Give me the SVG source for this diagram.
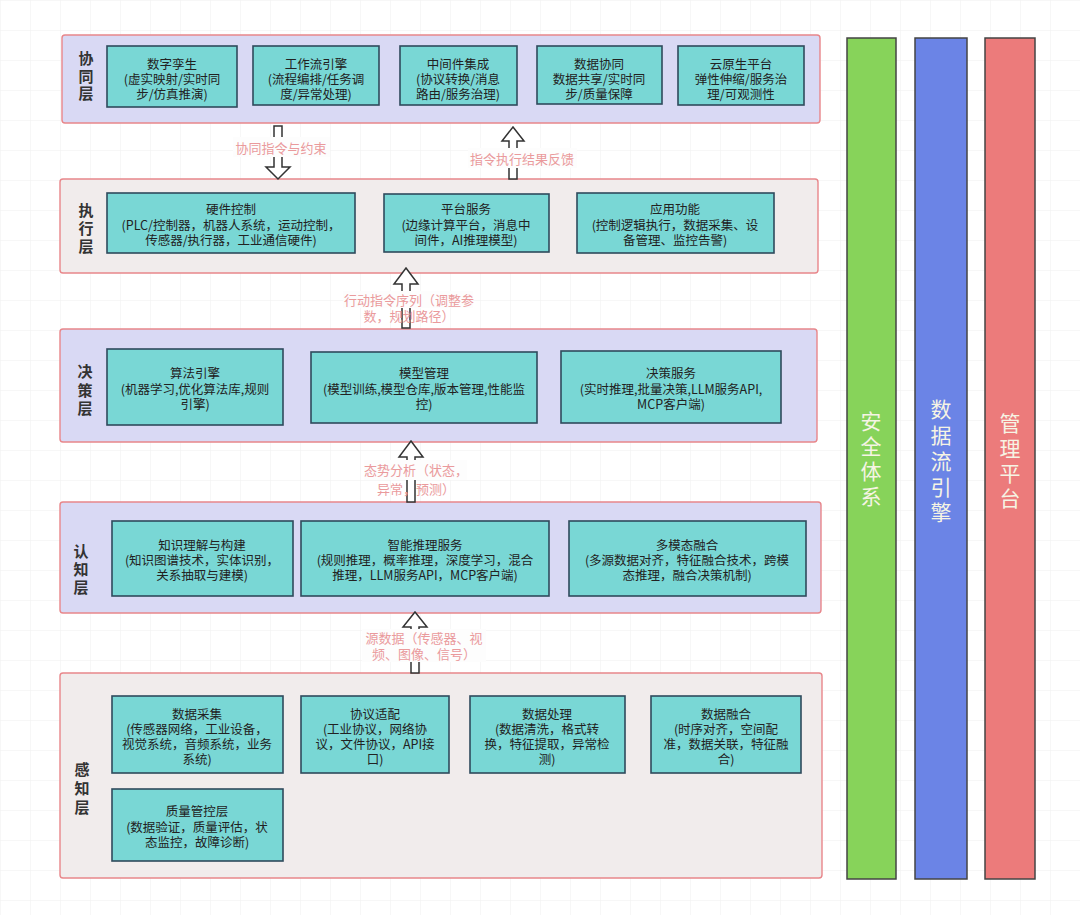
<svg xmlns="http://www.w3.org/2000/svg" width="1080" height="915" viewBox="0 0 1080 915">
<defs>
<pattern id="grid" width="30" height="30" patternUnits="userSpaceOnUse">
<path d="M30 0 L0 0 0 30" fill="none" stroke="#efefef" stroke-width="1"/>
</pattern>
<style>
.layerA{fill:#d9d9f4;stroke:#e8868a;stroke-width:1.4}
.layerB{fill:#f1ecec;stroke:#e8868a;stroke-width:1.4}
.node rect{fill:#79d7d5;stroke:#2f4a5c;stroke-width:1.6}
.nt{font-family:"Noto Sans CJK SC","Liberation Sans",sans-serif;font-size:12.5px;fill:#222;text-anchor:middle;dominant-baseline:central}
.ll{font-family:"Noto Sans CJK SC","Liberation Sans",sans-serif;font-size:15px;font-weight:bold;fill:#333;text-anchor:middle;dominant-baseline:central}
.arrow{fill:#ffffff;stroke:#333;stroke-width:1.5;stroke-linejoin:miter}
.al{font-family:"Noto Sans CJK SC","Liberation Sans",sans-serif;font-size:13px;fill:#ea9a9c;text-anchor:middle;dominant-baseline:central}
.lbg{fill:#fdfdfd}
.bar{stroke:#444;stroke-width:1.5}
.bt{font-family:"Noto Sans CJK SC","Liberation Sans",sans-serif;font-size:21px;fill:#f6f4e4;text-anchor:middle;dominant-baseline:central}
</style>
</defs>
<rect width="1080" height="915" fill="#ffffff"/>
<rect width="1080" height="915" fill="url(#grid)"/>

<!-- 协同层 -->
<g id="layer-xietong">
<rect class="layerA" x="62" y="35" width="758" height="88" rx="3"/>
<text class="ll" x="86" y="57">协<tspan x="86" dy="17.5">同</tspan><tspan x="86" dy="17.5">层</tspan></text>
</g>
<g id="n-shuzi" class="node"><rect x="107" y="46" width="130" height="61"/>
<text class="nt" x="172" y="63">数字孪生<tspan x="172" dy="15">(虚实映射/实时同</tspan><tspan x="172" dy="15">步/仿真推演)</tspan></text></g>
<g id="n-gongzuoliu" class="node"><rect x="253" y="46" width="126" height="59"/>
<text class="nt" x="316" y="63">工作流引擎<tspan x="316" dy="15">(流程编排/任务调</tspan><tspan x="316" dy="15">度/异常处理)</tspan></text></g>
<g id="n-zhongjianjian" class="node"><rect x="400" y="46" width="117" height="59"/>
<text class="nt" x="458" y="63">中间件集成<tspan x="458" dy="15">(协议转换/消息</tspan><tspan x="458" dy="15">路由/服务治理)</tspan></text></g>
<g id="n-shujuxietong" class="node"><rect x="537" y="46" width="125" height="58"/>
<text class="nt" x="599" y="63">数据协同<tspan x="599" dy="15">数据共享/实时同</tspan><tspan x="599" dy="15">步/质量保障</tspan></text></g>
<g id="n-yunyuansheng" class="node"><rect x="678" y="46" width="126" height="59"/>
<text class="nt" x="741" y="63">云原生平台<tspan x="741" dy="15">弹性伸缩/服务治</tspan><tspan x="741" dy="15">理/可观测性</tspan></text></g>

<!-- 执行层 -->
<g id="layer-zhixing">
<rect class="layerB" x="60" y="179" width="758" height="94" rx="3"/>
<text class="ll" x="86" y="209">执<tspan x="86" dy="18">行</tspan><tspan x="86" dy="18">层</tspan></text>
</g>
<g id="n-yingjian" class="node"><rect x="107" y="193" width="248" height="60"/>
<text class="nt" x="231" y="208">硬件控制<tspan x="231" dy="15.5">(PLC/控制器，机器人系统，运动控制，</tspan><tspan x="231" dy="15.5">传感器/执行器，工业通信硬件)</tspan></text></g>
<g id="n-pingtai" class="node"><rect x="384" y="194" width="165" height="58"/>
<text class="nt" x="466" y="208">平台服务<tspan x="466" dy="15.5">(边缘计算平台，消息中</tspan><tspan x="466" dy="15.5">间件，AI推理模型)</tspan></text></g>
<g id="n-yingyong" class="node"><rect x="577" y="193" width="197" height="60"/>
<text class="nt" x="675" y="208">应用功能<tspan x="675" dy="15.5">(控制逻辑执行，数据采集、设</tspan><tspan x="675" dy="15.5">备管理、监控告警)</tspan></text></g>

<!-- 决策层 -->
<g id="layer-juece">
<rect class="layerA" x="60" y="329" width="757" height="113" rx="3"/>
<text class="ll" x="85" y="370">决<tspan x="85" dy="18.5">策</tspan><tspan x="85" dy="18.5">层</tspan></text>
</g>
<g id="n-suanfa" class="node"><rect x="107" y="349" width="176" height="76"/>
<text class="nt" x="195" y="372">算法引擎<tspan x="195" dy="15.5">(机器学习,优化算法库,规则</tspan><tspan x="195" dy="15.5">引擎)</tspan></text></g>
<g id="n-moxing" class="node"><rect x="311" y="352" width="226" height="71"/>
<text class="nt" x="424" y="372">模型管理<tspan x="424" dy="15.5">(模型训练,模型仓库,版本管理,性能监</tspan><tspan x="424" dy="15.5">控)</tspan></text></g>
<g id="n-juecefuwu" class="node"><rect x="561" y="351" width="220" height="72"/>
<text class="nt" x="671" y="372">决策服务<tspan x="671" dy="15.5">(实时推理,批量决策,LLM服务API,</tspan><tspan x="671" dy="15.5">MCP客户端)</tspan></text></g>

<!-- 认知层 -->
<g id="layer-renzhi">
<rect class="layerA" x="60" y="502" width="761" height="111" rx="3"/>
<text class="ll" x="81" y="550">认<tspan x="81" dy="18">知</tspan><tspan x="81" dy="18">层</tspan></text>
</g>
<g id="n-zhishi" class="node"><rect x="112" y="521" width="181" height="75"/>
<text class="nt" x="202" y="544">知识理解与构建<tspan x="202" dy="15">(知识图谱技术，实体识别，</tspan><tspan x="202" dy="15">关系抽取与建模)</tspan></text></g>
<g id="n-zhineng" class="node"><rect x="301" y="521" width="248" height="75"/>
<text class="nt" x="425" y="544">智能推理服务<tspan x="425" dy="15">(规则推理，概率推理，深度学习，混合</tspan><tspan x="425" dy="15">推理，LLM服务API，MCP客户端)</tspan></text></g>
<g id="n-duomotai" class="node"><rect x="569" y="521" width="237" height="75"/>
<text class="nt" x="687" y="544">多模态融合<tspan x="687" dy="15">(多源数据对齐，特征融合技术，跨模</tspan><tspan x="687" dy="15">态推理，融合决策机制)</tspan></text></g>

<!-- 感知层 -->
<g id="layer-ganzhi">
<rect class="layerB" x="60" y="673" width="762" height="205" rx="3"/>
<text class="ll" x="82" y="768">感<tspan x="82" dy="19">知</tspan><tspan x="82" dy="19">层</tspan></text>
</g>
<g id="n-caiji" class="node"><rect x="112" y="696" width="171" height="77"/>
<text class="nt" x="197" y="713">数据采集<tspan x="197" dy="15">(传感器网络，工业设备，</tspan><tspan x="197" dy="15">视觉系统，音频系统，业务</tspan><tspan x="197" dy="15">系统)</tspan></text></g>
<g id="n-xieyi" class="node"><rect x="301" y="696" width="148" height="77"/>
<text class="nt" x="375" y="713">协议适配<tspan x="375" dy="15">(工业协议，网络协</tspan><tspan x="375" dy="15">议，文件协议，API接</tspan><tspan x="375" dy="15">口)</tspan></text></g>
<g id="n-chuli" class="node"><rect x="470" y="696" width="155" height="77"/>
<text class="nt" x="547" y="713">数据处理<tspan x="547" dy="15">(数据清洗，格式转</tspan><tspan x="547" dy="15">换，特征提取，异常检</tspan><tspan x="547" dy="15">测)</tspan></text></g>
<g id="n-ronghe" class="node"><rect x="651" y="696" width="150" height="77"/>
<text class="nt" x="726" y="713">数据融合<tspan x="726" dy="15">(时序对齐，空间配</tspan><tspan x="726" dy="15">准，数据关联，特征融</tspan><tspan x="726" dy="15">合)</tspan></text></g>
<g id="n-zhiliang" class="node"><rect x="112" y="789" width="171" height="72"/>
<text class="nt" x="197" y="810">质量管控层<tspan x="197" dy="15.5">(数据验证，质量评估，状</tspan><tspan x="197" dy="15.5">态监控，故障诊断)</tspan></text></g>

<!-- 侧栏 -->
<g id="bar-anquan">
<rect class="bar" x="847" y="38" width="49" height="841" fill="#87d35a"/>
<text class="bt" x="871" y="420">安<tspan x="871" dy="25">全</tspan><tspan x="871" dy="25">体</tspan><tspan x="871" dy="25">系</tspan></text>
</g>
<g id="bar-shujuliu">
<rect class="bar" x="915" y="38" width="52" height="841" fill="#6b84e6"/>
<text class="bt" x="941" y="408">数<tspan x="941" dy="26">据</tspan><tspan x="941" dy="26">流</tspan><tspan x="941" dy="26">引</tspan><tspan x="941" dy="25">擎</tspan></text>
</g>
<g id="bar-guanli">
<rect class="bar" x="985" y="38" width="50" height="841" fill="#ec7b7b"/>
<text class="bt" x="1010" y="422">管<tspan x="1010" dy="25">理</tspan><tspan x="1010" dy="25">平</tspan><tspan x="1010" dy="25">台</tspan></text>
</g>

<!-- 连接 -->
<g id="connectors">
<path class="arrow" d="M274 126 L282 126 L282 167 L290 167 L278 179 L266 167 L274 167 Z"/>
<rect class="lbg" x="233" y="137" width="97" height="20"/>
<text class="al" x="281" y="147">协同指令与约束</text>

<path class="arrow" d="M513 127 L524 141 L517 141 L517 179 L509 179 L509 141 L502 141 Z"/>
<rect class="lbg" x="468" y="148" width="109" height="20"/>
<text class="al" x="522" y="158">指令执行结果反馈</text>

<path class="arrow" d="M406 268 L418 284 L410 284 L410 328 L402 328 L402 284 L394 284 Z"/>
<rect class="lbg" x="343" y="291" width="130" height="17"/>
<text class="al" x="409" y="299">行动指令序列（调整参<tspan x="409" dy="16">数，规划路径）</tspan></text>

<path class="arrow" d="M411 441 L423 457 L415 457 L415 502 L407 502 L407 457 L399 457 Z"/>
<rect class="lbg" x="364" y="460" width="103" height="20"/>
<text class="al" x="416" y="469">态势分析（状态，<tspan x="416" dy="19">异常，预测）</tspan></text>

<path class="arrow" d="M415 612 L427 627 L419 627 L419 673 L411 673 L411 627 L403 627 Z"/>
<rect class="lbg" x="362" y="629" width="124" height="33"/>
<text class="al" x="424" y="637">源数据（传感器、视<tspan x="424" dy="16">频、图像、信号）</tspan></text>
</g>
</svg>
